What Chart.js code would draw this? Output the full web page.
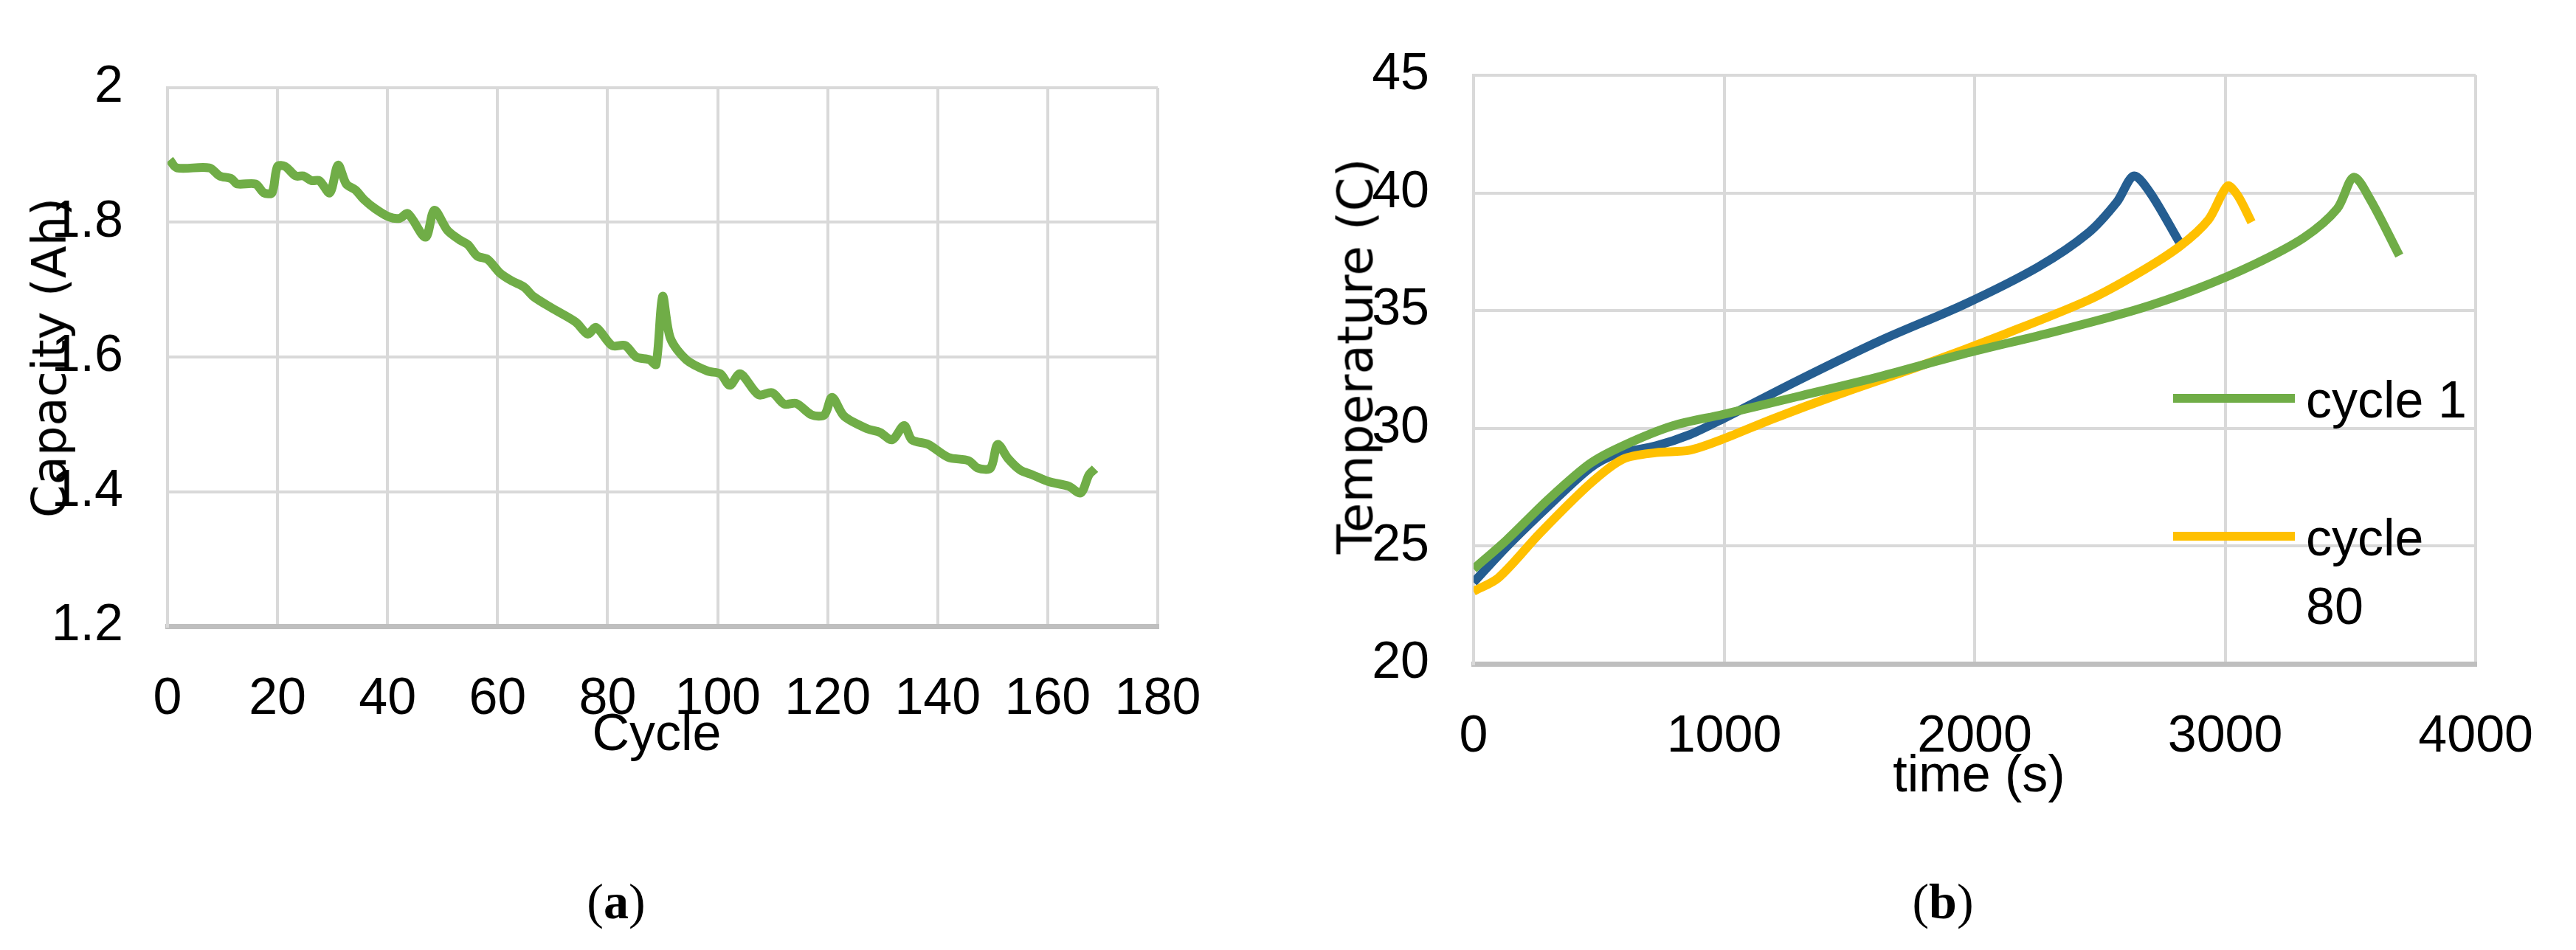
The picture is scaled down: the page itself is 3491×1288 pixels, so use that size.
<!DOCTYPE html>
<html>
<head>
<meta charset="utf-8">
<script src="https://cdn.jsdelivr.net/npm/chart.js@4.4.1/dist/chart.umd.min.js"></script>
<style>
  body { margin: 0; background: #fff; width: 3491px; height: 1288px; position: relative; overflow: hidden; }
  .box { position: absolute; }
  .txt { position: absolute; color: #000; white-space: nowrap; }
  .narrow { font-family: 'Liberation Sans Narrow', 'Liberation Sans', sans-serif; }
</style>
</head>
<body>
<div class="box" style="left:0;top:0;width:1700px;height:1100px"><canvas id="capChart"></canvas></div>
<div class="box" style="left:1700px;top:0;width:1791px;height:1100px"><canvas id="tempChart"></canvas></div>

<div class="txt" style="left:67px;top:485px;transform:translate(-50%,-50%) rotate(-90deg);font:64px 'DejaVu Sans'">Capacity (Ah)</div>
<div class="txt narrow" style="left:890px;top:993px;transform:translate(-50%,-50%);font-size:70px">Cycle</div>
<div class="txt" style="left:1837px;top:483px;transform:translate(-50%,-50%) rotate(-90deg);font:66px 'DejaVu Sans'">Temperature (C)</div>
<div class="txt narrow" style="left:2682px;top:1049px;transform:translate(-50%,-50%);font-size:70px">time (s)</div>
<div class="txt" style="left:835px;top:1222px;transform:translate(-50%,-50%);font:68px 'Liberation Serif'">(<b>a</b>)</div>
<div class="txt" style="left:2633px;top:1222px;transform:translate(-50%,-50%);font:68px 'Liberation Serif'">(<b>b</b>)</div>
<div id="legend"></div>

<script>
// (a) capacity vs cycle
const cycles = [0.4, 1.7, 7.6, 9.5, 11.6, 12.7, 16, 17.5, 19, 20, 21.4, 23.3, 24.7, 26.2, 27.6, 29.5, 31, 32.5, 34.2, 35.7,
  37.8, 40.3, 42.2, 43.7, 46.9, 48.5, 50.9, 53.1, 54.6, 56.3, 58.2, 60.4, 62.6, 64.8, 66.5, 69.8, 74.2, 76.4, 77.9, 80.8,
  83.2, 85.2, 87.6, 88.8, 90, 91.4, 94.3, 98.2, 100.5, 102.2, 104.1, 107.4, 109.9, 112.1, 114.3, 117.1, 119.4, 120.8, 123, 127.3,
  129.5, 131.7, 133.9, 135.3, 138.3, 141.9, 145.6, 147.3, 149.6, 150.9, 152.8, 155, 157.2, 160.1, 163.8, 166, 167.5, 168.6];
const capacity = [1.893, 1.881, 1.881, 1.869, 1.865, 1.857, 1.857, 1.844, 1.844, 1.883, 1.883, 1.869, 1.869, 1.862, 1.862, 1.844, 1.885, 1.857, 1.848, 1.834,
  1.820, 1.808, 1.806, 1.813, 1.778, 1.818, 1.788, 1.774, 1.767, 1.750, 1.745, 1.725, 1.713, 1.704, 1.690, 1.673, 1.652, 1.634, 1.644, 1.617,
  1.617, 1.600, 1.596, 1.589, 1.690, 1.628, 1.596, 1.579, 1.575, 1.558, 1.575, 1.544, 1.547, 1.530, 1.531, 1.514, 1.514, 1.540, 1.512, 1.493,
  1.488, 1.477, 1.498, 1.477, 1.470, 1.451, 1.446, 1.435, 1.435, 1.470, 1.449, 1.432, 1.425, 1.415, 1.408, 1.398, 1.425, 1.434];

// (b) temperature vs time
const timeBlue = [0, 133, 298, 464, 563, 729, 862, 994, 1292, 1624, 1955, 2254, 2452, 2568, 2635, 2701, 2817];
const tempBlue = [23.46, 24.98, 26.69, 28.31, 28.88, 29.26, 29.73, 30.40, 32.02, 33.73, 35.25, 36.86, 38.29, 39.62, 40.72, 40.0, 37.91];
const timeCycle80 = [0, 99, 265, 464, 596, 729, 862, 994, 1193, 1458, 1790, 2121, 2452, 2651, 2817, 2933, 3009, 3049, 3105];
const tempCycle80 = [23.08, 23.65, 25.55, 27.64, 28.69, 28.97, 29.07, 29.54, 30.40, 31.45, 32.68, 34.01, 35.44, 36.58, 37.72, 38.86, 40.29, 39.91, 38.76];
const timeCycle1 = [0, 133, 298, 464, 596, 795, 994, 1292, 1624, 1955, 2320, 2651, 2883, 3115, 3314, 3447, 3513, 3579, 3695];
const tempCycle1 = [24.03, 25.27, 26.98, 28.50, 29.26, 30.11, 30.59, 31.35, 32.21, 33.16, 34.11, 35.06, 35.91, 36.96, 38.10, 39.33, 40.67, 39.72, 37.34];

const legendNames = ['cycle 1', 'cycle 80'];
const GREEN = '#70AD47', YELLOW = '#FFC000', BLUE = '#255E91';
const tickFont = { family: "'Liberation Sans Narrow', 'Liberation Sans', sans-serif", size: 70 };

const pts = (xs, ys) => xs.map((x, i) => ({ x: x, y: ys[i] }));
const line = (data, color) => ({ data: data, borderColor: color, borderWidth: 12, pointRadius: 0, showLine: true, tension: 0.3, fill: false });

function makeChart(id, datasets, xr, yr, box) {
  return new Chart(document.getElementById(id), {
    type: 'scatter',
    data: { datasets: datasets },
    options: {
      responsive: true, maintainAspectRatio: false, animation: false,
      layout: { padding: { top: box.top, right: box.right, left: 0, bottom: 0 } },
      plugins: { legend: { display: false }, tooltip: { enabled: false } },
      scales: {
        x: {
          type: 'linear', min: xr[0], max: xr[1],
          ticks: { stepSize: xr[2], color: '#000', font: tickFont, padding: box.xpad, maxRotation: 0,
                   callback: v => String(v) },
          grid: { color: '#d9d9d9', lineWidth: 4, drawTicks: false },
          border: { color: '#bfbfbf', width: 7 },
          afterFit: s => { s.height = box.xh; }
        },
        y: {
          min: yr[0], max: yr[1],
          ticks: { stepSize: yr[2], color: '#000', font: tickFont, padding: box.ypad,
                   callback: v => Number(v.toFixed(1)).toString() },
          grid: { color: '#d9d9d9', lineWidth: 4, drawTicks: false },
          border: { color: '#d9d9d9', width: 4 },
          afterFit: s => { s.width = box.yw; }
        }
      }
    }
  });
}

makeChart('capChart', [line(pts(cycles, capacity), GREEN)], [0, 180, 20], [1.2, 2, 0.2],
  { top: 119, right: 131, xh: 251, yw: 227, xpad: 58, ypad: 60 });

makeChart('tempChart', [
  line(pts(timeCycle1, tempCycle1), GREEN),
  line(pts(timeCycle80, tempCycle80), YELLOW),
  line(pts(timeBlue, tempBlue), BLUE)
], [0, 4000, 1000], [20, 45, 5],
  { top: 62, right: 114, xh: 200, yw: 297, xpad: 58, ypad: 60 });

// legend inside panel (b)
const legendColors = [GREEN, YELLOW];
const legendTops = [540, 727];
const lg = document.getElementById('legend');
legendNames.forEach((name, i) => {
  const sw = document.createElement('div');
  sw.className = 'box';
  sw.style.cssText = `left:2945px;top:${legendTops[i] - 6}px;width:165px;height:12px;background:${legendColors[i]}`;
  lg.appendChild(sw);
  const t = document.createElement('div');
  t.className = 'txt narrow';
  t.style.cssText = `left:3125px;top:${legendTops[i] - 44}px;width:${i === 0 ? 300 : 190}px;font-size:70px;line-height:93px;white-space:normal`;
  t.textContent = name;
  lg.appendChild(t);
});
</script>
</body>
</html>
